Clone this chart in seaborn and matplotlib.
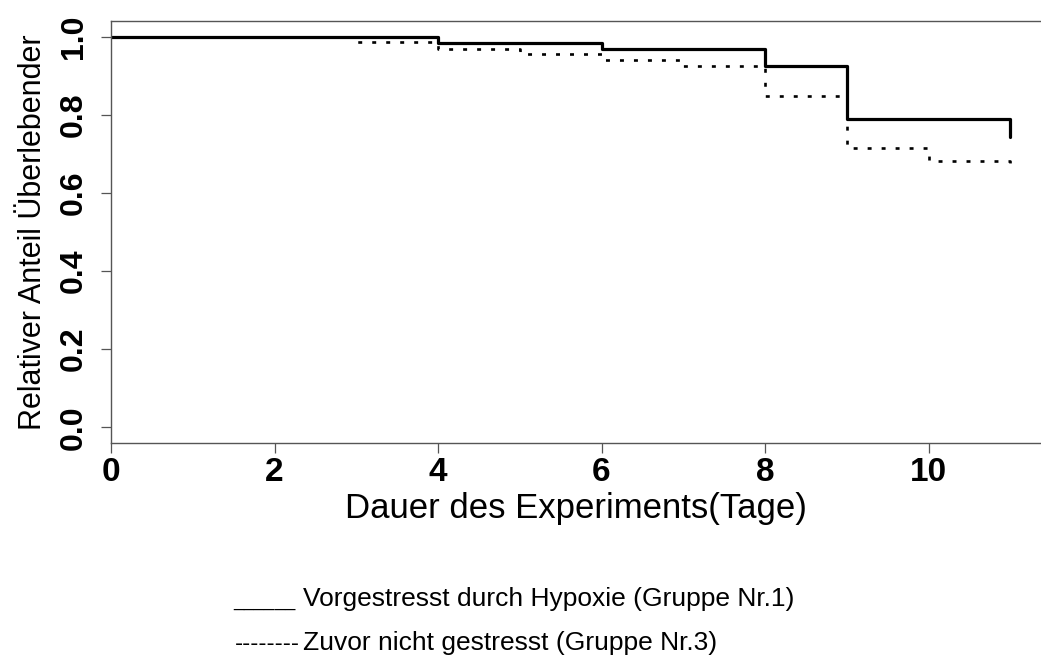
import pandas as pd
import seaborn as sns
import matplotlib
matplotlib.use("Agg")
import matplotlib.pyplot as plt

# Kaplan-Meier-artige Überlebenskurven
tage_gruppe1 = [0, 4, 6, 8, 9, 11]
anteil_gruppe1 = [1.0, 0.984, 0.969, 0.924, 0.790, 0.742]

tage_gruppe3 = [0, 3, 4, 5, 6, 7, 8, 9, 10, 11]
anteil_gruppe3 = [1.0, 0.985, 0.969, 0.956, 0.940, 0.924, 0.849, 0.716, 0.682, 0.673]

x_ticks = [0, 2, 4, 6, 8, 10]
y_ticks = [0.0, 0.2, 0.4, 0.6, 0.8, 1.0]

legende_1 = "Vorgestresst durch Hypoxie (Gruppe Nr.1)"
legende_3 = "Zuvor nicht gestresst (Gruppe Nr.3)"

df1 = pd.DataFrame({"tag": tage_gruppe1, "anteil": anteil_gruppe1})
df3 = pd.DataFrame({"tag": tage_gruppe3, "anteil": anteil_gruppe3})

sns.set_style("ticks")
plt.rcParams['font.family'] = ['Liberation Sans', 'DejaVu Sans']
plt.rcParams['text.color'] = 'black'
plt.rcParams['axes.labelcolor'] = 'black'
plt.rcParams['xtick.labelcolor'] = 'black'
plt.rcParams['ytick.labelcolor'] = 'black'

fig = plt.figure(figsize=(10.41, 6.64), dpi=100)
ax = fig.add_axes([111 / 1041, 1 - 443 / 664, 1 - 111 / 1041, (443 - 21) / 664])

# gestrichelt zuerst, durchgezogen darüber
sns.lineplot(data=df3, x="tag", y="anteil", ax=ax, estimator=None, sort=False,
             drawstyle="steps-post", color="black", linewidth=1.9,
             linestyle=(0, (1.5, 3.8)))
sns.lineplot(data=df1, x="tag", y="anteil", ax=ax, estimator=None, sort=False,
             drawstyle="steps-post", color="black", linewidth=2.3)

ax.set_xlim(0, (1041 - 111) / 81.75)
ax.set_ylim(-0.04, 1.04)
ax.set_xticks(x_ticks)
ax.set_yticks(y_ticks)
ax.set_xticklabels([str(t) for t in x_ticks], fontsize=24, fontweight="bold")
ax.set_yticklabels([f"{t:.1f}" for t in y_ticks], fontsize=23, fontweight="bold",
                   rotation=90, va="center", ha="right")

for side in ["top", "bottom", "left"]:
    ax.spines[side].set_color("#555555")
    ax.spines[side].set_linewidth(1.0)
ax.spines["right"].set_visible(False)
ax.tick_params(axis="x", length=7, width=0.9, color="#555555", pad=3)
ax.tick_params(axis="y", length=7, width=0.9, color="#555555", pad=9)

ax.set_xlabel("Dauer des Experiments(Tage)", fontsize=25, labelpad=3)
ax.set_ylabel("Relativer Anteil Überlebender", fontsize=22, labelpad=8)

# Legende als reiner Text unter dem Diagramm
y1 = 1 - 606 / 664
y3 = 1 - 650 / 664
fig.text(233 / 1041, y1, "______", fontsize=13.5, ha="left", va="baseline")
fig.text(303 / 1041, y1, legende_1, fontsize=19, ha="left", va="baseline")
fig.text(235 / 1041, y3, "--------", fontsize=17.5, ha="left", va="baseline")
fig.text(303 / 1041, y3, legende_3, fontsize=19, ha="left", va="baseline")

plt.savefig("out.png", dpi=100)
